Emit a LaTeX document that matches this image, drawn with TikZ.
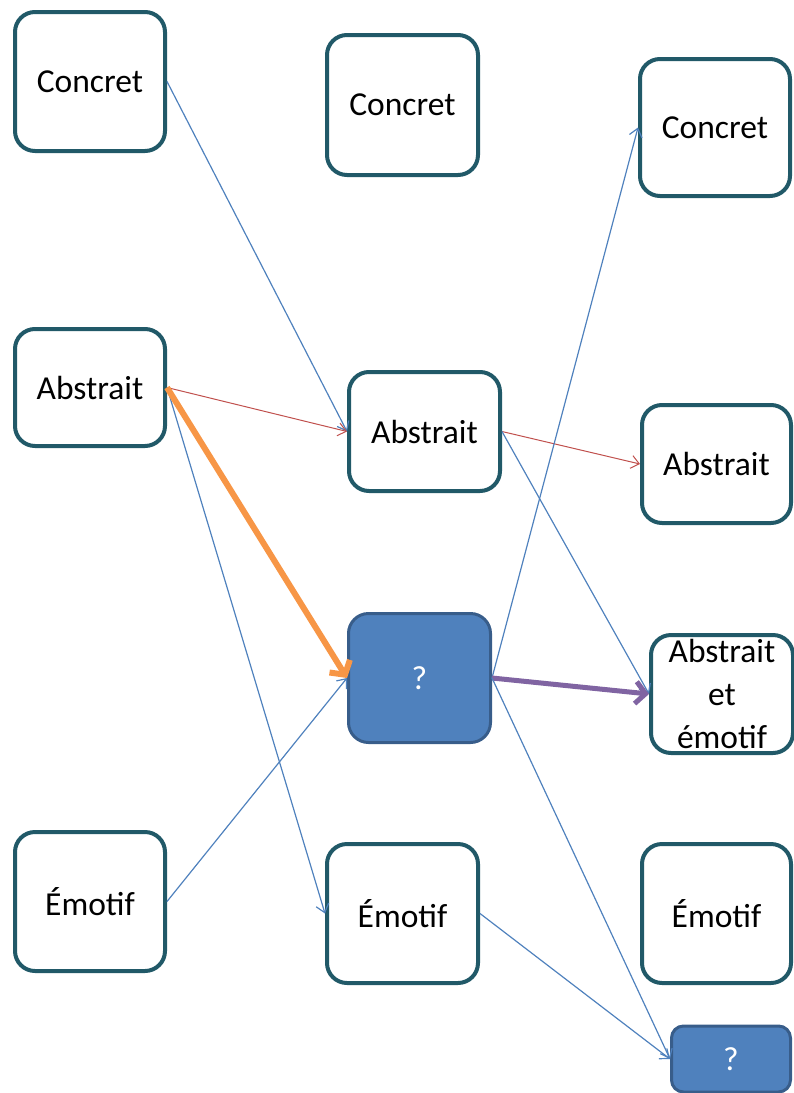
\documentclass[tikz,border=0pt]{standalone}
\usepackage{fontspec}
\setmainfont{Carlito}
\usetikzlibrary{arrows.meta}
\definecolor{boxline}{HTML}{215968}
\definecolor{qfill}{HTML}{4F81BD}
\definecolor{qline}{HTML}{385D8A}
\definecolor{blueline}{HTML}{4F81BD}
\definecolor{redline}{HTML}{C0504D}
\definecolor{orangeline}{HTML}{F79646}
\definecolor{purpleline}{HTML}{8064A2}
\tikzset{
  box/.style={draw=boxline, line width=4pt, rounded corners=20pt, fill=white,
    align=center, inner sep=0pt, font=\fontsize{33.5}{43}\selectfont},
  qbox/.style={draw=qline, line width=3pt, rounded corners=20pt, fill=qfill,
    text=white, align=center, inner sep=0pt, font=\fontsize{33.5}{43}\selectfont},
  thin/.style={draw=blueline, line width=1.2pt, -{Straight Barb[length=8pt,width=13pt]}},
  redarr/.style={draw=redline, line width=1pt, -{Straight Barb[length=8pt,width=13pt]}},
  orangearr/.style={draw=orangeline, line width=6pt, -{Straight Barb[length=10pt,width=24pt]}},
  purplearr/.style={draw=purpleline, line width=5pt, -{Straight Barb[length=10pt,width=22pt]}},
}
\begin{document}
\begin{tikzpicture}[x=1pt,y=-1pt]
\useasboundingbox (0,0) rectangle (794,1093);
\clip (0,0) rectangle (794,1093);
% column 1
\node[box, minimum width=150pt, minimum height=139pt] (c1) at (90,81.5) {Concret};
\node[box, minimum width=150pt, minimum height=117pt] (a1) at (90,387.5) {Abstrait};
\node[box, minimum width=150pt, minimum height=139pt] (e1) at (90,901.5) {Émotif};
% column 2
\node[box, minimum width=151pt, minimum height=140pt] (c2) at (402.5,105) {Concret};
\node[box, minimum width=151pt, minimum height=119pt] (a2) at (424.5,431.5) {Abstrait};
\node[qbox, minimum width=142pt, minimum height=129pt] (q1) at (419.5,678) {?};
\node[box, minimum width=151pt, minimum height=139pt] (e2) at (402.5,913.5) {Émotif};
% column 3
\node[box, minimum width=150pt, minimum height=137pt] (c3) at (715,127.5) {Concret};
\node[box, minimum width=149pt, minimum height=118pt] (a3) at (716.5,464) {Abstrait};
\node[box, minimum width=142pt, minimum height=118pt] (ae) at (722,694) {Abstrait\\et\\émotif};
\node[box, minimum width=149pt, minimum height=139pt] (e3) at (716.5,913.5) {Émotif};
\node[qbox, minimum width=119pt, minimum height=66pt, rounded corners=12pt] (q2) at (731,1059) {?};
% connectors
\draw[thin] (c1.east) -- (a2.west);
\draw[redarr] (a1.east) -- (a2.west);
\draw[thin] (a1.east) -- (e2.west);
\draw[orangearr] (a1.east) -- (q1.west);
\draw[thin] (e1.east) -- (q1.west);
\draw[redarr] (a2.east) -- (a3.west);
\draw[thin] (a2.east) -- (ae.west);
\draw[thin] (q1.east) -- (c3.west);
\draw[purplearr] (q1.east) -- (ae.west);
\draw[thin] (q1.east) -- (q2.west);
\draw[thin] (e2.east) -- (q2.west);
\end{tikzpicture}
\end{document}
